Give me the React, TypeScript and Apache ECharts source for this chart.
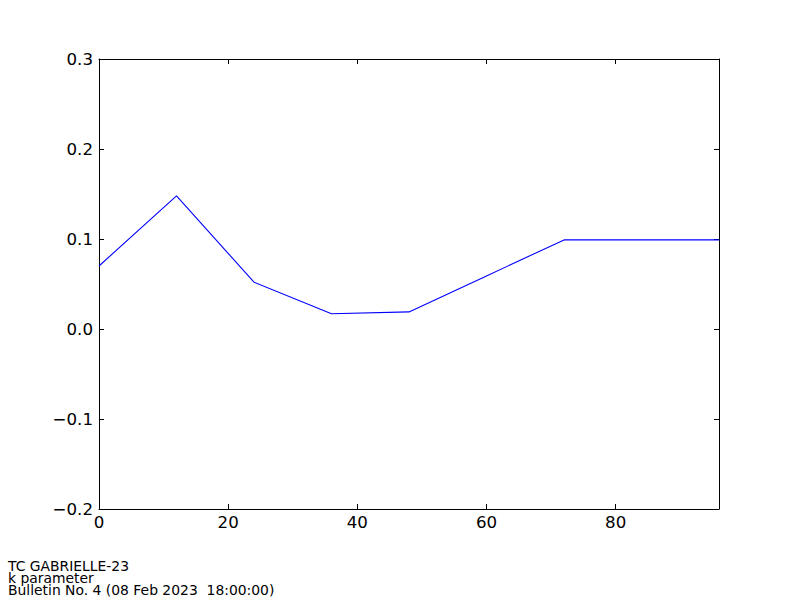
import React, { useEffect, useRef } from "react";
import * as echarts from "echarts";

const leadHours = [0, 12, 24, 36, 48, 60, 72, 84, 96];
const kValues = [0.07, 0.148, 0.052, 0.017, 0.019, 0.059, 0.099, 0.099, 0.099];
const xTicks = [0, 20, 40, 60, 80];
const yTicks = [-0.2, -0.1, 0.0, 0.1, 0.2, 0.3];
const footerLines = ["TC GABRIELLE-23", "k parameter", "Bulletin No. 4 (08 Feb 2023  18:00:00)"];

const FONT = "DejaVu Sans";

export default function App() {
  const ref = useRef<HTMLDivElement>(null);
  useEffect(() => {
    if (!ref.current) return;
    const chart = echarts.init(ref.current, null, { renderer: "svg" });
    const fmtY = (v: number) => {
      const s = Math.abs(v).toFixed(1);
      return v < -1e-9 ? "\u2212" + s : s;
    };
    const baseX = {
      type: "value" as const,
      min: 0,
      max: 96,
      interval: 20,
      splitLine: { show: false },
      axisLine: { show: true, onZero: false, lineStyle: { color: "#000", width: 1 } },
      axisTick: { show: true, inside: true, length: 5, lineStyle: { color: "#000" } },
    };
    const baseY = {
      type: "value" as const,
      min: -0.2,
      max: 0.3,
      interval: 0.1,
      splitLine: { show: false },
      axisLine: { show: true, onZero: false, lineStyle: { color: "#000", width: 1 } },
      axisTick: { show: true, inside: true, length: 5, lineStyle: { color: "#000" } },
    };
    chart.setOption({
      animation: false,
      backgroundColor: "#fff",
      grid: { left: 99, right: 81, top: 59, height: 450, containLabel: false },
      xAxis: [
        {
          ...baseX,
          position: "bottom",
          axisLabel: {
            show: true,
            margin: 5,
            fontFamily: FONT,
            fontSize: 16.67,
            color: "#000",
            customValues: xTicks,
            formatter: (v: number) => String(Math.round(v)),
          },
          axisTick: { ...baseX.axisTick, customValues: xTicks },
        },
        {
          ...baseX,
          position: "top",
          axisLabel: { show: false },
          axisTick: { ...baseX.axisTick, customValues: xTicks },
        },
      ],
      yAxis: [
        {
          ...baseY,
          position: "left",
          axisLabel: {
            show: true,
            margin: 6,
            fontFamily: FONT,
            fontSize: 16.67,
            color: "#000",
            formatter: fmtY,
            customValues: yTicks,
          },
          axisTick: { ...baseY.axisTick, customValues: yTicks },
        },
        {
          ...baseY,
          position: "right",
          axisLabel: { show: false },
          axisTick: { ...baseY.axisTick, customValues: yTicks },
        },
      ],
      series: [
        {
          type: "line",
          data: leadHours.map((h, i) => [h, kValues[i]]),
          showSymbol: false,
          symbol: "none",
          lineStyle: { color: "#0000ff", width: 1.1 },
          clip: true,
        },
      ],
      graphic: footerLines.map((t, i) => ({
        type: "text",
        left: 8,
        top: 559 + i * 12,
        style: {
          text: t,
          fontFamily: FONT,
          fontSize: 13.9,
          lineHeight: 12,
          fill: "#000",
        },
      })),
    });
    return () => chart.dispose();
  }, []);
  return <div ref={ref} style={{ width: 800, height: 600, position: "absolute", left: 0, top: 0 }} />;
}
